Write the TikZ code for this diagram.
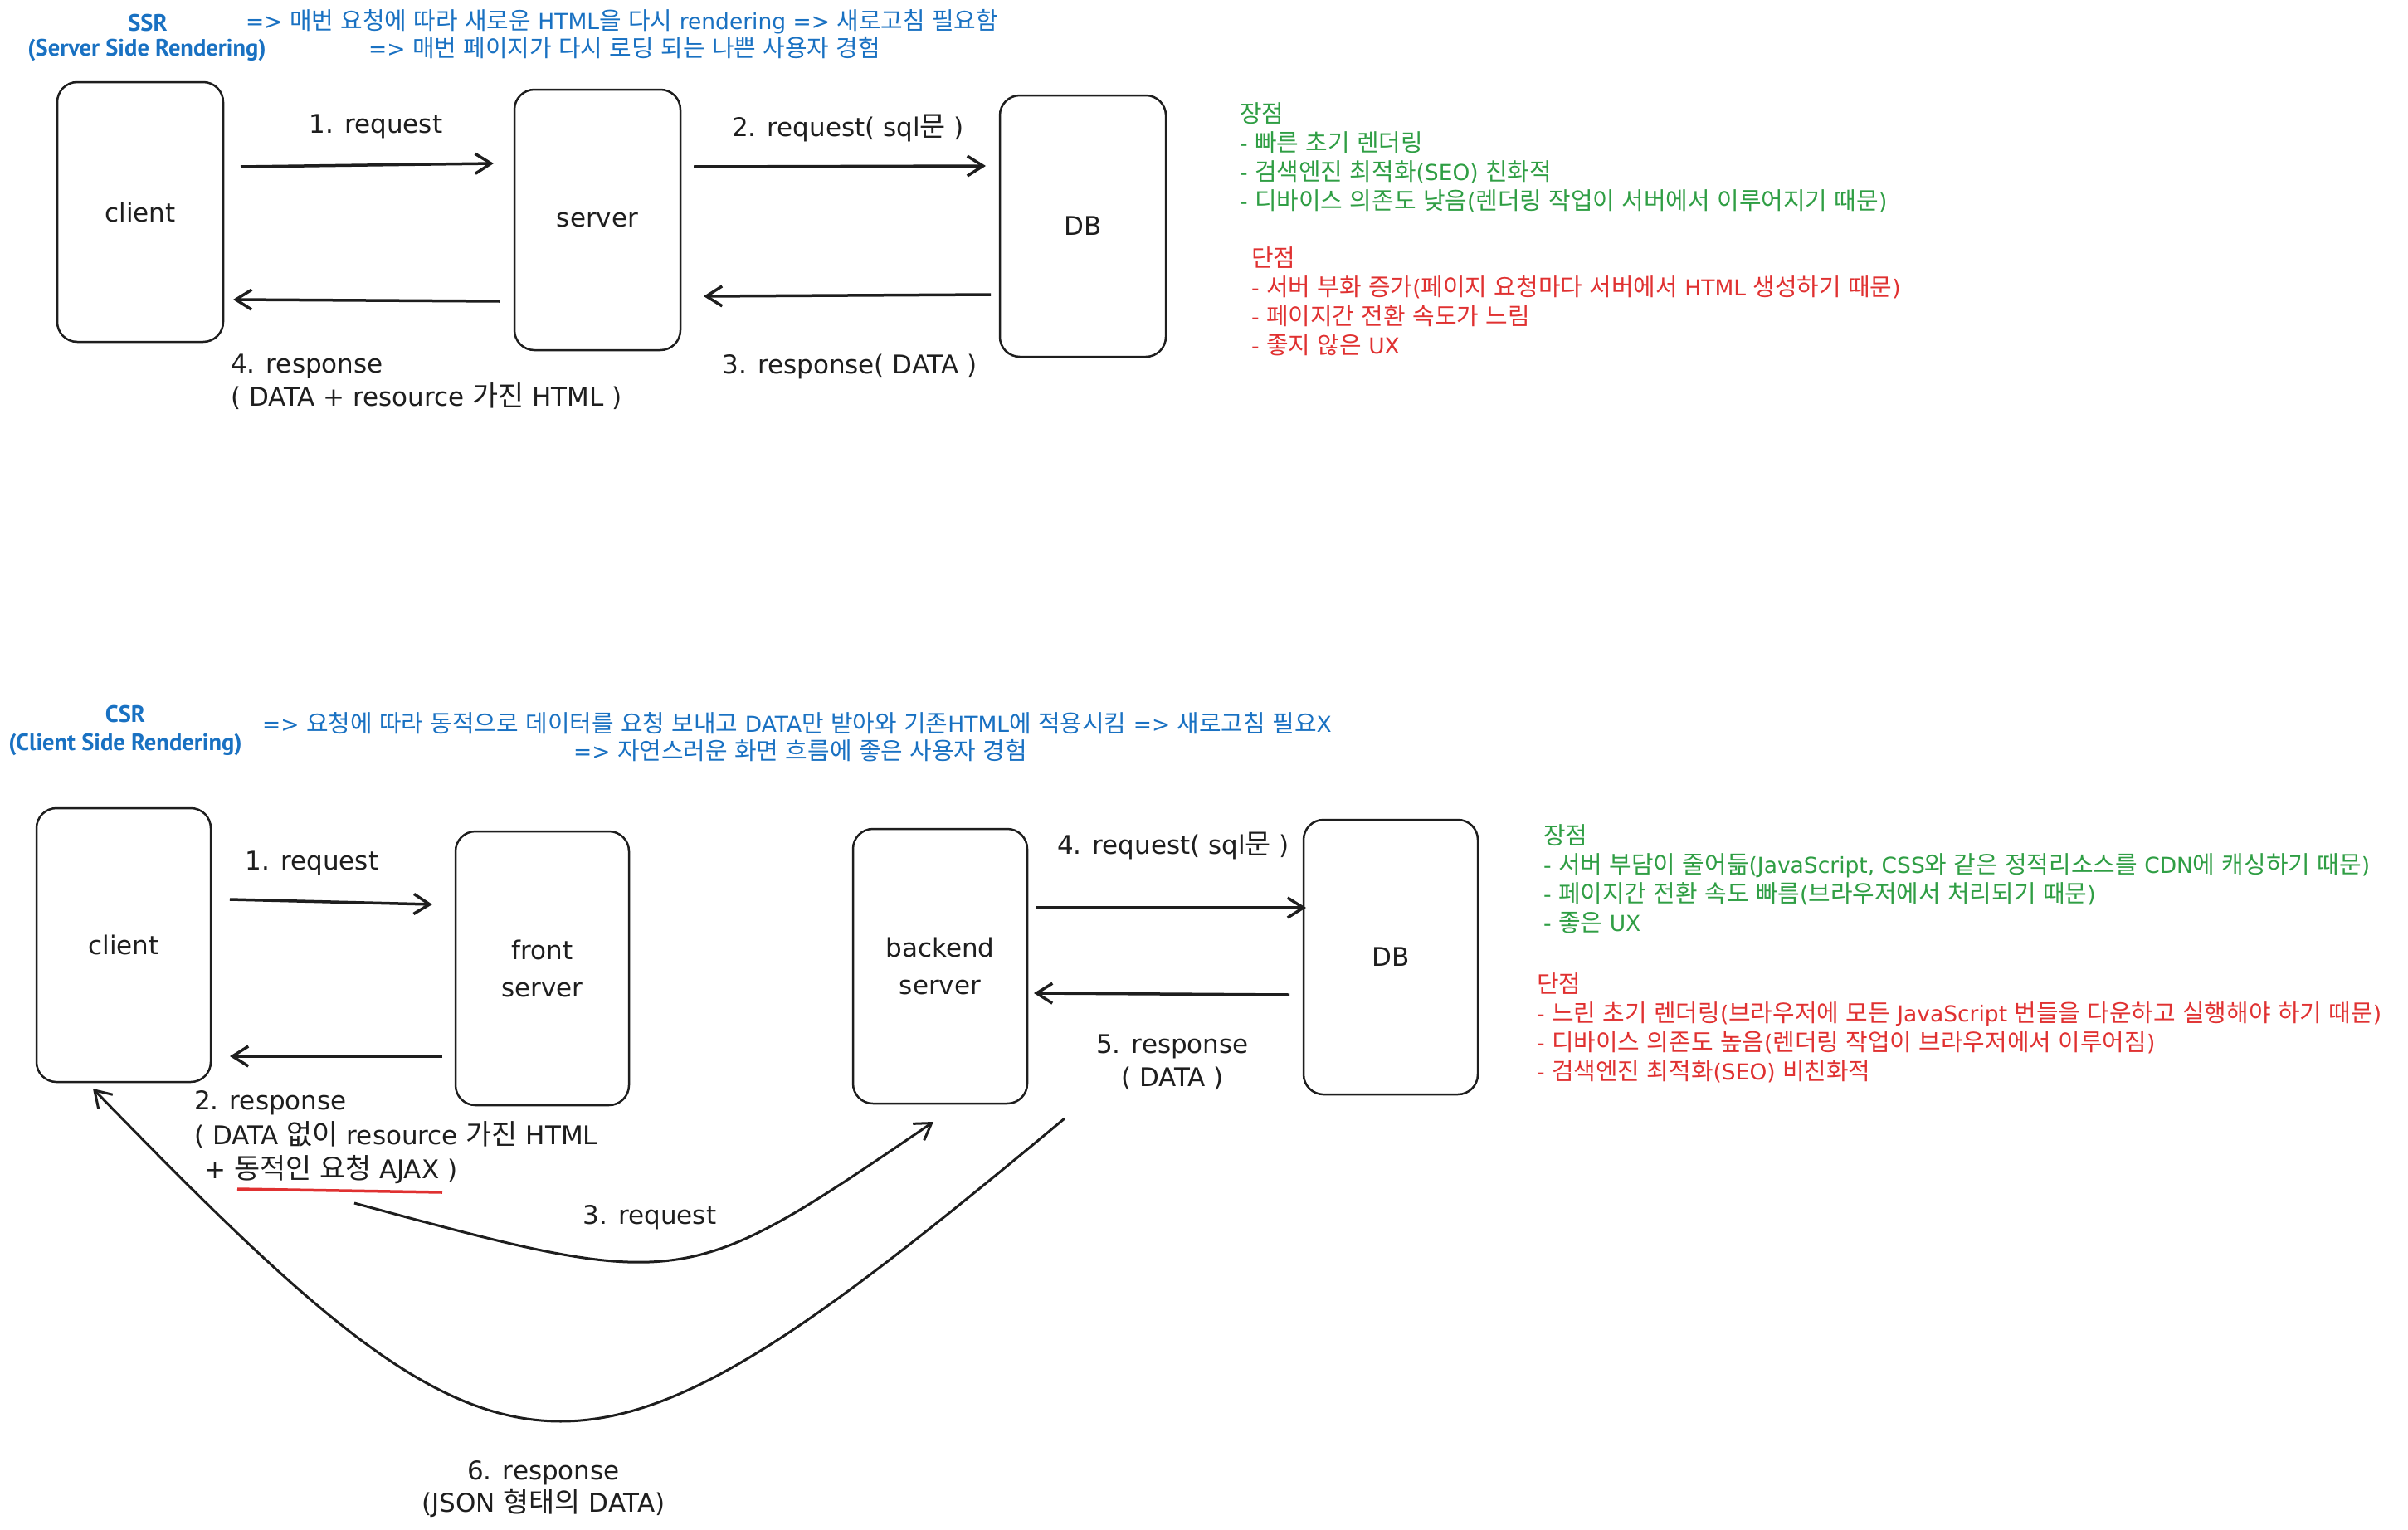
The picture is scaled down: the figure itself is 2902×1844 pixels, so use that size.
\documentclass[tikz,border=0pt]{standalone}
\usepackage{fontspec}
\setmainfont{DejaVu Sans}
\newfontfamily\kr{Noto Sans CJK KR}[Scale=1.09]
\newfontfamily\hdr{PT Sans}
\usetikzlibrary{arrows.meta}
% automatic switch to the Korean font for Hangul syllables
\XeTeXinterchartokenstate=1
\chardef\KRclass=10
\count255="AC00
\loop
  \XeTeXcharclass\count255=\KRclass
  \ifnum\count255<"D7A3 \advance\count255 by 1 \repeat
\XeTeXinterchartoks 0 \KRclass = {\begingroup\kr}
\XeTeXinterchartoks 4095 \KRclass = {\begingroup\kr}
\XeTeXinterchartoks \KRclass 0 = {\endgroup}
\XeTeXinterchartoks \KRclass 4095 = {\endgroup}
\definecolor{xblue}{HTML}{1971C2}
\definecolor{xgreen}{HTML}{2F9E44}
\definecolor{xred}{HTML}{E03131}
\definecolor{ink}{HTML}{1E1E1E}
\newcommand\lblfont{\fontsize{31}{45}\selectfont}
\newcommand\lstfont{\fontsize{26.5}{35}\selectfont}
\tikzset{
  box/.style={draw=ink, text=ink, line width=2.5pt, rounded corners=24pt, inner sep=0pt, font=\lblfont, align=center},
  arr/.style={draw=ink, line width=3.5pt, -{Straight Barb[length=19pt,width=24pt]}},
  carr/.style={draw=ink, line width=3pt, -{Straight Barb[length=19pt,width=24pt]}},
  lbl/.style={text=ink, font=\lblfont, inner sep=0pt, text height=28pt, text depth=8pt},
  lst/.style={font=\lstfont, inner sep=0pt, text height=25pt, text depth=5pt, anchor=west},
  hdrb/.style={text=xblue, font={\hdr\bfseries\fontsize{28.5}{32}\selectfont}, inner sep=0pt},
  hdrl/.style={lst, text=xblue},
  pro/.style={lst, text=xgreen},
  con/.style={lst, text=xred}
}
\begin{document}
\begin{tikzpicture}[x=1pt,y=-1pt]
\useasboundingbox (0,0) rectangle (2902,1844);
\fill[white] (0,0) rectangle (2902,1844);

% ---------------- SSR header
\node[hdrb] (ssrT) at (178,28) {SSR};
\node[hdrb] (ssrT2) at (177,60) {(Server Side Rendering)};
\node[hdrl] (ssrL1) at (296,26) {=> 매번 요청에 따라 새로운 HTML을 다시 rendering => 새로고침 필요함};
\node[hdrl] (ssrL2) at (444,59) {=> 매번 페이지가 다시 로딩 되는 나쁜 사용자 경험};

% ---------------- SSR boxes
\node[box, minimum width=200pt, minimum height=313pt] (ssrClient) at (169,255.5) {client};
\node[box, minimum width=200pt, minimum height=314pt] (ssrServer) at (720,265) {server};
\node[box, minimum width=200pt, minimum height=315pt] (ssrDB) at (1305,272.5) {DB};

% ---------------- SSR arrows
\coordinate (a1s) at (290,201); \coordinate (a1e) at (595,197);
\coordinate (a2s) at (836,201); \coordinate (a2e) at (1188,200);
\coordinate (a3s) at (1194,355); \coordinate (a3e) at (848,357);
\coordinate (a4s) at (602,363); \coordinate (a4e) at (281,361);
\draw[arr] (a1s) -- (a1e);
\draw[arr] (a2s) -- (a2e);
\draw[arr] (a3s) -- (a3e);
\draw[arr] (a4s) -- (a4e);
\node[lbl] (l1) at (453,150) {1. request};
\node[lbl] (l2) at (1022,154) {2. request( sql문 )};
\node[lbl] (l3) at (1024,440) {3. response( DATA )};
\node[lbl, anchor=west] (l4a) at (278,439) {4. response};
\node[lbl, anchor=west] (l4b) at (278,479) {( DATA + resource 가진 HTML )};

% ---------------- SSR pros / cons
\node[pro] (sp0) at (1494,137) {장점};
\node[pro] (sp1) at (1494,172) {- 빠른 초기 렌더링};
\node[pro] (sp2) at (1494,207) {- 검색엔진 최적화(SEO) 친화적};
\node[pro] (sp3) at (1494,242) {- 디바이스 의존도 낮음(렌더링 작업이 서버에서 이루어지기 때문)};
\node[con] (sc0) at (1508,311) {단점};
\node[con] (sc1) at (1508,346) {- 서버 부화 증가(페이지 요청마다 서버에서 HTML 생성하기 때문)};
\node[con] (sc2) at (1508,381) {- 페이지간 전환 속도가 느림};
\node[con] (sc3) at (1508,416) {- 좋지 않은 UX};

% ---------------- CSR header
\node[hdrb] (csrT) at (151,861) {CSR};
\node[hdrb] (csrT2) at (151,897) {(Client Side Rendering)};
\node[hdrl] (csrL1) at (316,872) {=> 요청에 따라 동적으로 데이터를 요청 보내고 DATA만 받아와 기존HTML에 적용시킴 => 새로고침 필요X};
\node[hdrl] (csrL2) at (691,905) {=> 자연스러운 화면 흐름에 좋은 사용자 경험};

% ---------------- CSR boxes
\node[box, minimum width=210pt, minimum height=330pt] (csrClient) at (149,1139) {client};
\node[box, minimum width=209pt, minimum height=330pt] (csrFront) at (653.5,1167) {front\\server};
\node[box, minimum width=210pt, minimum height=331pt] (csrBack) at (1133,1164.5) {backend\\server};
\node[box, minimum width=210pt, minimum height=331pt] (csrDB) at (1676,1153.5) {DB};

% ---------------- CSR arrows
\coordinate (b1s) at (277,1084); \coordinate (b1e) at (521,1090);
\coordinate (b2s) at (533,1273); \coordinate (b2e) at (277,1273);
\coordinate (b4s) at (1248,1094); \coordinate (b4e) at (1574,1094);
\coordinate (b5s) at (1554,1199); \coordinate (b5e) at (1246,1197);
\coordinate (b3s) at (427,1450); \coordinate (b3e) at (1125,1352);
\coordinate (b6s) at (1283,1348); \coordinate (b6e) at (112,1312);
\draw[arr] (b1s) -- (b1e);
\draw[arr] (b2s) -- (b2e);
\draw[arr] (b4s) -- (b4e);
\draw[arr] (b5s) -- (b5e);
\draw[carr] (b3s) .. controls (827,1558) and (825,1556) .. (b3e);
\draw[carr] (b6s) .. controls (691,1840) and (625,1840) .. (b6e);

\node[lbl] (m1) at (376,1038) {1. request};
\node[lbl, anchor=west] (m2a) at (234,1327) {2. response};
\node[lbl, anchor=west] (m2b) at (234,1369) {( DATA 없이 resource 가진 HTML};
\node[lbl, anchor=west] (m2c) at (246,1410) {+ 동적인 요청 AJAX )};
\coordinate (ulS) at (286,1433); \coordinate (ulE) at (533,1437);
\draw[xred, line width=3.5pt] (ulS) -- (ulE);
\node[lbl] (m3) at (783,1465) {3. request};
\node[lbl] (m4) at (1414,1019) {4. request( sql문 )};
\node[lbl] (m5a) at (1413,1259) {5. response};
\node[lbl] (m5b) at (1413,1299) {( DATA )};
\node[lbl] (m6a) at (655,1773) {6. response};
\node[lbl] (m6b) at (655,1812) {(JSON 형태의 DATA)};

% ---------------- CSR pros / cons
\node[pro] (cp0) at (1860,1007) {장점};
\node[pro] (cp1) at (1860,1042) {- 서버 부담이 줄어듦(JavaScript, CSS와 같은 정적리소스를 CDN에 캐싱하기 때문)};
\node[pro] (cp2) at (1860,1077) {- 페이지간 전환 속도 빠름(브라우저에서 처리되기 때문)};
\node[pro] (cp3) at (1860,1112) {- 좋은 UX};
\node[con] (cc0) at (1852,1186) {단점};
\node[con] (cc1) at (1852,1221) {- 느린 초기 렌더링(브라우저에 모든 JavaScript 번들을 다운하고 실행해야 하기 때문)};
\node[con] (cc2) at (1852,1256) {- 디바이스 의존도 높음(렌더링 작업이 브라우저에서 이루어짐)};
\node[con] (cc3) at (1852,1291) {- 검색엔진 최적화(SEO) 비친화적};
\end{tikzpicture}
\end{document}
